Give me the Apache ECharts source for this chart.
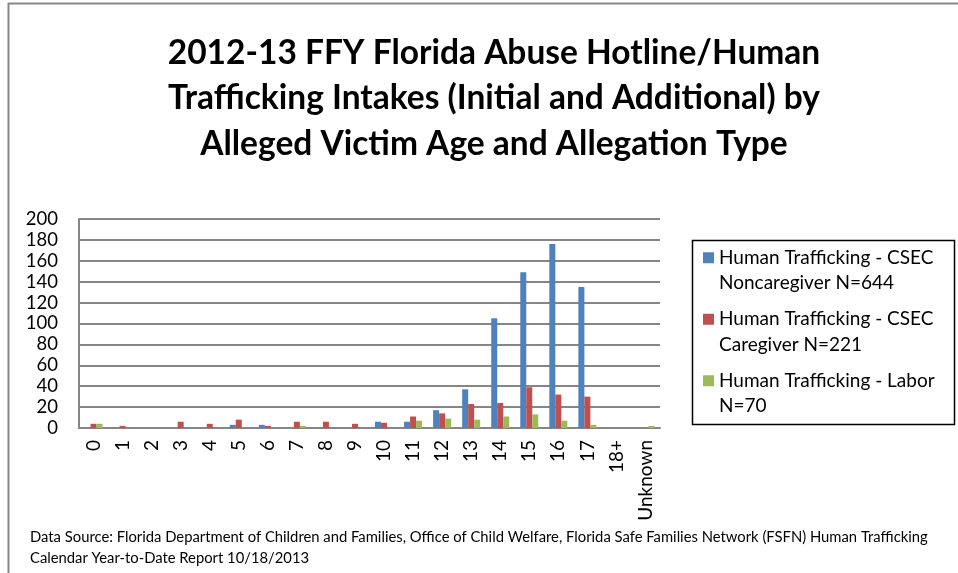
<!DOCTYPE html>
<html>
<head>
<meta charset="utf-8">
<script src="https://cdn.jsdelivr.net/npm/echarts@6/dist/echarts.min.js"></script>
<style>
  html, body { margin: 0; padding: 0; background: #fff; }
  #chart { width: 958px; height: 573px; }
</style>
</head>
<body>
<div id="chart"></div>
<script>
// ages on the x axis
const ages = ['0', '1', '2', '3', '4', '5', '6', '7', '8', '9', '10',
  '11', '12', '13', '14', '15', '16', '17', '18+', 'Unknown'];

const seriesNames = [
  'Human Trafficking - CSEC\nNoncaregiver N=644',
  'Human Trafficking - CSEC\nCaregiver N=221',
  'Human Trafficking - Labor\nN=70'
];

// values
const noncaregiver = [0, 0, 0, 0, 0, 3, 3, 0, 0, 0, 6, 6, 17, 37, 105, 149, 176, 135, 0, 0];
const caregiver = [4, 2, 0, 6, 4, 8, 2, 6, 6, 4, 5, 11, 14, 23, 24, 39, 32, 30, 0, 0];
const labor = [4, 0, 0, 0, 0, 0, 0, 2, 0, 0, 0, 7, 9, 8, 11, 13, 7, 3, 0, 2];

const yTicks = { min: 0, max: 200, interval: 20 };

const font = 'Lato';

let chart = echarts.init(document.getElementById('chart'));

function bar(name, data, color) {
  return {
    name: name,
    type: 'bar',
    data: data,
    barWidth: 6,
    barGap: '0%',
    itemStyle: { color: color }
  };
}

let option = {
  animation: false,
  backgroundColor: '#fff',
  textStyle: { fontFamily: font },
  title: {
    text: '2012-13 FFY Florida Abuse Hotline/Human\nTrafficking Intakes (Initial and Additional) by\nAlleged Victim Age and Allegation Type',
    left: 489,
    top: 25,
    textAlign: 'center',
    textStyle: {
      fontFamily: font,
      fontSize: 33.5,
      fontWeight: 'bold',
      lineHeight: 45.5,
      color: '#000'
    }
  },
  legend: {
    orient: 'vertical',
    left: 692,
    top: 219.5,
    padding: [0, 0, 0, 11],
    itemGap: -15,
    itemWidth: 11,
    itemHeight: 11,
    icon: 'rect',
    // a blank first line keeps the marker level with the first text line
    formatter: function (name) { return '\n' + name; },
    textStyle: {
      fontFamily: font,
      fontSize: 19,
      lineHeight: 25.5,
      color: '#000'
    }
  },
  grid: {
    left: 79,
    right: 298,
    top: 219,
    bottom: 145
  },
  xAxis: {
    type: 'category',
    data: ages,
    axisLine: { lineStyle: { color: '#868686', width: 2 } },
    axisTick: { show: false },
    axisLabel: {
      rotate: 90,
      interval: 0,
      margin: 12,
      fontFamily: font,
      fontSize: 19,
      color: '#000'
    }
  },
  yAxis: {
    type: 'value',
    min: yTicks.min,
    max: yTicks.max,
    interval: yTicks.interval,
    axisLine: { show: true, lineStyle: { color: '#868686', width: 2 } },
    axisTick: { show: false },
    splitLine: { lineStyle: { color: '#868686', width: 2 } },
    axisLabel: {
      margin: 21,
      fontFamily: font,
      fontSize: 18.5,
      color: '#000'
    }
  },
  series: [
    bar(seriesNames[0], noncaregiver, '#4F81BD'),
    bar(seriesNames[1], caregiver, '#C0504D'),
    bar(seriesNames[2], labor, '#9BBB59')
  ],
  graphic: [
    {
      // outer frame, only top and left edges are visible in the picture
      type: 'rect',
      shape: { x: 8.5, y: 3.5, width: 1000, height: 1000 },
      style: { fill: 'none', stroke: '#888', lineWidth: 2 }
    },
    {
      // legend frame
      type: 'rect',
      shape: { x: 692.5, y: 240.5, width: 262, height: 184 },
      style: { fill: 'none', stroke: '#000', lineWidth: 1.5 }
    },
    {
      type: 'text',
      left: 30,
      top: 527,
      style: {
        text: 'Data Source: Florida Department of Children and Families, Office of Child Welfare, Florida Safe Families Network (FSFN) Human Trafficking\nCalendar Year-to-Date Report 10/18/2013',
        font: '14.8px ' + font,
        lineHeight: 21,
        fill: '#000'
      }
    }
  ]
};
chart.setOption(option);
</script>
</body>
</html>
